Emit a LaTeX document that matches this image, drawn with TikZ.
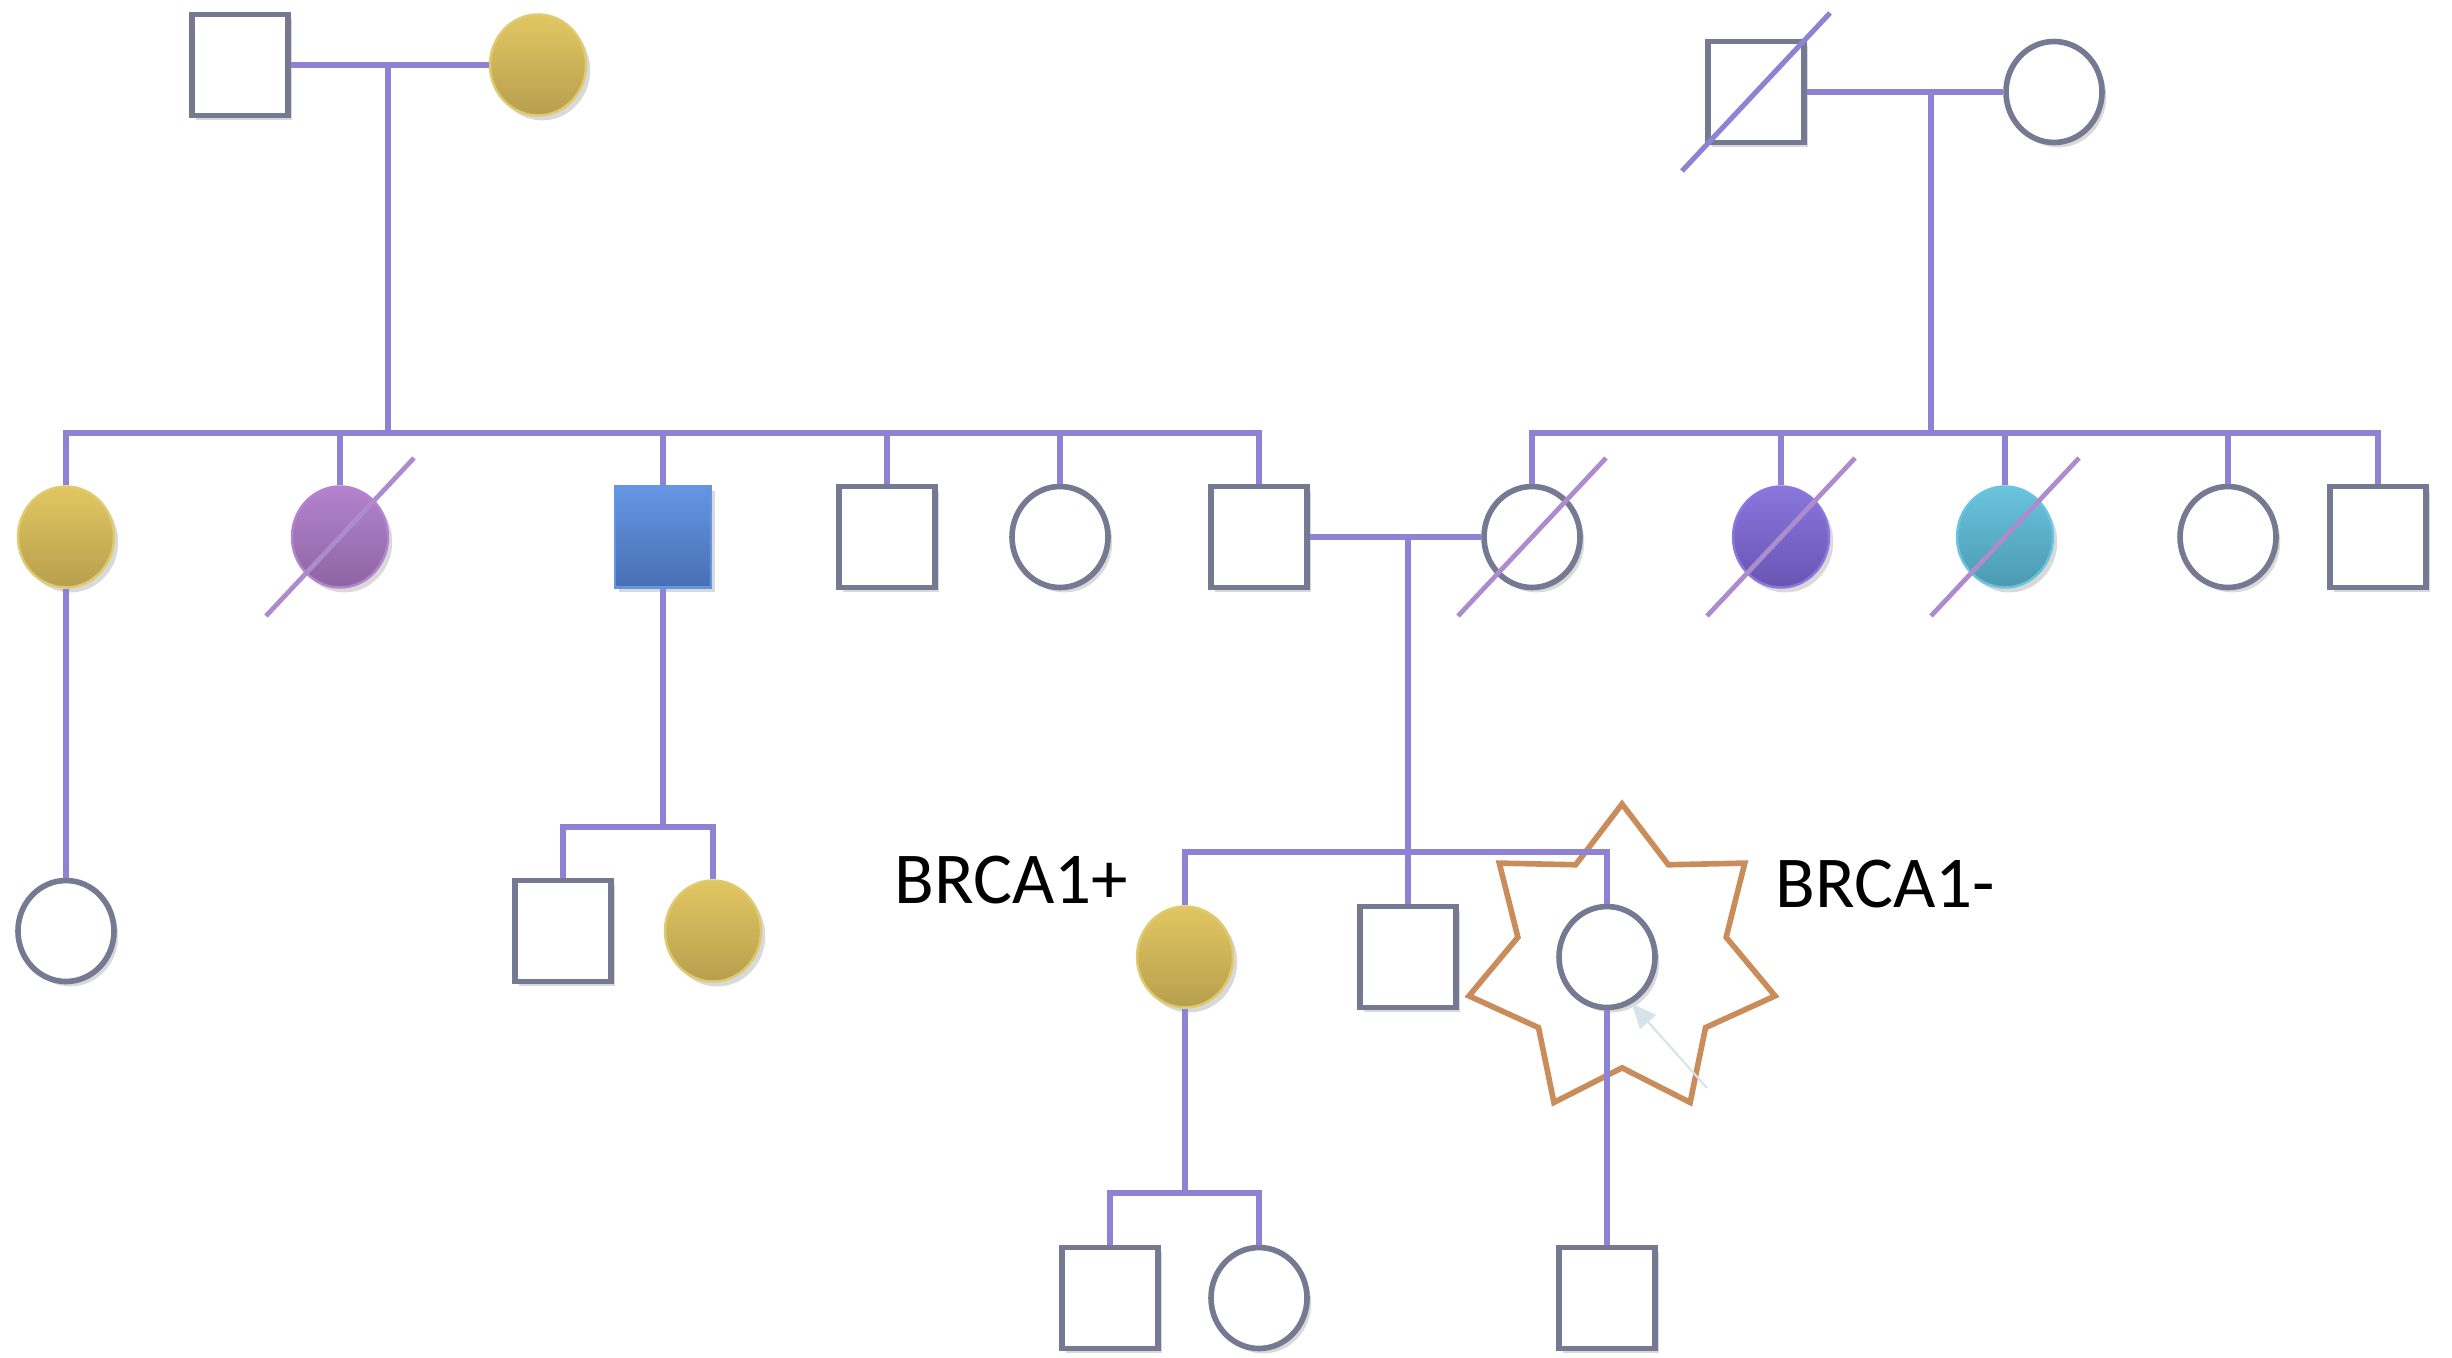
\documentclass[tikz,border=0pt]{standalone}
\usepackage{fontspec}
\newfontfamily\brcafont{Carlito}
\usetikzlibrary{shapes.geometric,shadows,arrows.meta}
\definecolor{relline}{RGB}{142,130,212}
\definecolor{outline}{RGB}{117,121,145}
\definecolor{slashc}{RGB}{172,140,204}
\definecolor{yelT}{RGB}{225,199,98}
\definecolor{yelB}{RGB}{184,159,78}
\definecolor{yelO}{RGB}{222,202,112}
\definecolor{purT}{RGB}{180,131,206}
\definecolor{purB}{RGB}{141,101,162}
\definecolor{bluT}{RGB}{100,150,227}
\definecolor{bluB}{RGB}{73,111,180}
\definecolor{vioT}{RGB}{138,119,221}
\definecolor{vioB}{RGB}{104,84,178}
\definecolor{cyaT}{RGB}{106,196,221}
\definecolor{cyaB}{RGB}{74,154,177}
\definecolor{starc}{RGB}{201,141,92}
\definecolor{ptrc}{RGB}{214,227,233}
\begin{document}
\begin{tikzpicture}[y=-1cm,
    person/.style={draw=outline, line width=1.6pt, fill=white, inner sep=0pt,
      minimum width=0.96cm, minimum height=1.01cm,
      drop shadow={opacity=0.3, shadow xshift=1.2pt, shadow yshift=-1.4pt}},
    male/.style={person, rectangle},
    female/.style={person, ellipse},
    yellowfill/.style={line width=0.7pt, draw=yelO, top color=yelT, bottom color=yelB},
    purplefill/.style={line width=0.7pt, draw=purT, top color=purT, bottom color=purB},
    bluefill/.style={line width=0.7pt, draw=bluT, top color=bluT, bottom color=bluB},
    violetfill/.style={line width=0.7pt, draw=vioT, top color=vioT, bottom color=vioB},
    cyanfill/.style={line width=0.7pt, draw=cyaT, top color=cyaT, bottom color=cyaB},
    rel/.style={draw=relline, line width=1.45pt},
    gone/.style={draw=slashc, line width=1.35pt},
    starmark/.style={star, star points=7, star point ratio=1.47, minimum size=3.14cm,
      inner sep=0pt, draw=starc, line width=1.6pt},
    pointer/.style={draw=ptrc, line width=0.6pt, -{Triangle[length=7pt,width=6pt]}},
    label/.style={anchor=base west, inner sep=0pt, font=\brcafont\fontsize{20.8pt}{25pt}\selectfont}]
  \useasboundingbox (0,0) rectangle (24.52,13.57);
  \node[starmark] (halo) at (16.22,9.61) {};
  \path (2.40,0.65) node[male] (i1) {}
        (5.38,0.65) node[female, yellowfill] (i2) {}
        (17.56,0.92) node[male] (i3) {}
        (20.54,0.92) node[female] (i4) {};
  \path (0.66,5.37) node[female, yellowfill] (ii1) {}
        (3.40,5.37) node[female, purplefill] (ii2) {}
        (6.63,5.37) node[male, bluefill] (ii3) {}
        (8.87,5.37) node[male] (ii4) {}
        (10.60,5.37) node[female] (ii5) {}
        (12.59,5.37) node[male] (ii6) {}
        (15.32,5.37) node[female] (ii7) {}
        (17.81,5.37) node[female, violetfill] (ii8) {}
        (20.05,5.37) node[female, cyanfill] (ii9) {}
        (22.28,5.37) node[female] (ii10) {}
        (23.78,5.37) node[male] (ii11) {};
  \path (0.66,9.31) node[female] (iii1) {}
        (5.63,9.31) node[male] (iii2) {}
        (7.13,9.31) node[female, yellowfill] (iii3) {}
        (11.85,9.57) node[female, yellowfill] (iii4) {}
        (14.08,9.57) node[male] (iii5) {}
        (16.07,9.57) node[female] (iii6) {};
  \path (11.10,12.98) node[male] (iv1) {}
        (12.59,12.98) node[female] (iv2) {}
        (16.07,12.98) node[male] (iv3) {};
  \coordinate (m1) at (3.88,0.65);
  \coordinate (sib1) at (3.88,4.33);
  \coordinate (m2) at (19.31,0.92);
  \coordinate (sib2) at (19.31,4.33);
  \coordinate (m3) at (14.08,5.37);
  \coordinate (sib3) at (6.63,8.27);
  \coordinate (sib4) at (14.08,8.52);
  \coordinate (sib5) at (11.85,11.93);
  \coordinate (ptr) at (17.07,10.88);
  \draw[rel] (i1) -- (i2) (m1) -- (sib1)
             (i3) -- (i4) (m2) -- (sib2)
             (ii6) -- (ii7) (m3) -- (sib4);
  \draw[rel] (ii1.north) |- (sib1) -| (ii6.north)
             (ii7.north) |- (sib2) -| (ii11.north);
  \foreach \n in {ii2,ii3,ii4,ii5}
    \draw[rel] (\n.north) -- (\n.north |- sib1);
  \foreach \n in {ii8,ii9,ii10}
    \draw[rel] (\n.north) -- (\n.north |- sib2);
  \draw[rel] (ii1) -- (iii1)
             (ii3) -- (sib3)
             (iii2.north) |- (sib3) -| (iii3.north)
             (iii4.north) |- (sib4) -| (iii6.north)
             (iii5.north) -- (sib4)
             (iii4) -- (sib5)
             (iv1.north) |- (sib5) -| (iv2.north)
             (iii6) -- (iv3);
  \draw[rel] ([shift={(-0.74,0.79)}]i3.center) -- ([shift={(0.74,-0.79)}]i3.center);
  \foreach \n in {ii2,ii7,ii8,ii9}
    \draw[gone] ([shift={(-0.74,0.79)}]\n.center) -- ([shift={(0.74,-0.79)}]\n.center);
  \draw[pointer] (ptr) -- (iii6.-62);
  \node[label] (pos) at (8.94,9.03) {BRCA1+};
  \node[label] (neg) at (17.75,9.07) {BRCA1-};
\end{tikzpicture}
\end{document}
